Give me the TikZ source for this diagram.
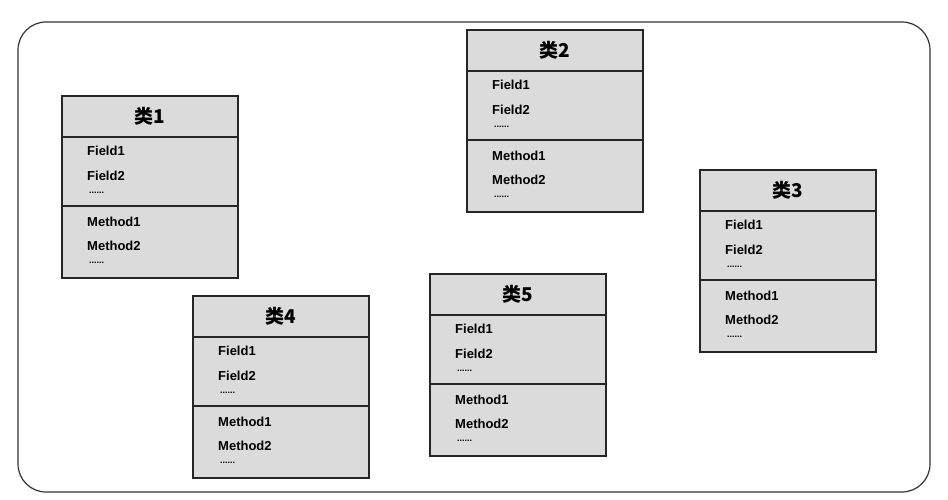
\documentclass[tikz,border=0pt]{standalone}
\usepackage{fontspec}
\setmainfont{Liberation Sans}
\newfontfamily\cjk{Noto Sans CJK SC}
\tikzset{
  boxfill/.style={fill=gray!28, draw=black!85, line width=1.3pt},
  ttl/.style={font=\cjk\bfseries\fontsize{19}{21}\selectfont, anchor=center},
  itm/.style={font=\bfseries\fontsize{13}{15}\selectfont, anchor=west, inner sep=0pt},
  dts/.style={font=\bfseries\fontsize{9}{10}\selectfont, anchor=west, inner sep=0pt}
}
\newcommand{\umlclass}[4]{%
\begin{scope}[shift={(#2pt,-#3pt)}]
  \draw[boxfill] (0,0) rectangle (176pt,-182pt);
  \draw[black!85, line width=1.3pt] (0,-41pt) -- (176pt,-41pt);
  \draw[black!85, line width=1.3pt] (0,-110pt) -- (176pt,-110pt);
  \node[ttl] (#1t) at (88pt,-20pt) {#4};
  \node[itm] (#1f1) at (25pt,-55pt) {Field1};
  \node[itm] (#1f2) at (25pt,-80pt) {Field2};
  \node[dts] (#1fd) at (27pt,-97pt) {......};
  \node[itm] (#1m1) at (25pt,-126pt) {Method1};
  \node[itm] (#1m2) at (25pt,-150pt) {Method2};
  \node[dts] (#1md) at (27pt,-167pt) {......};
\end{scope}}
\begin{document}
\begin{tikzpicture}[x=1pt,y=1pt]
\useasboundingbox (0,0) rectangle (948,-500);
\fill[white] (0,0) rectangle (948,-500);
\draw[black!80, line width=1.2pt, rounded corners=28pt] (18,-22) rectangle (930,-492);
\umlclass{a}{62}{96}{类1}
\umlclass{b}{467}{30}{类2}
\umlclass{c}{700}{170}{类3}
\umlclass{d}{193}{296}{类4}
\umlclass{e}{430}{274}{类5}
\end{tikzpicture}
\end{document}
